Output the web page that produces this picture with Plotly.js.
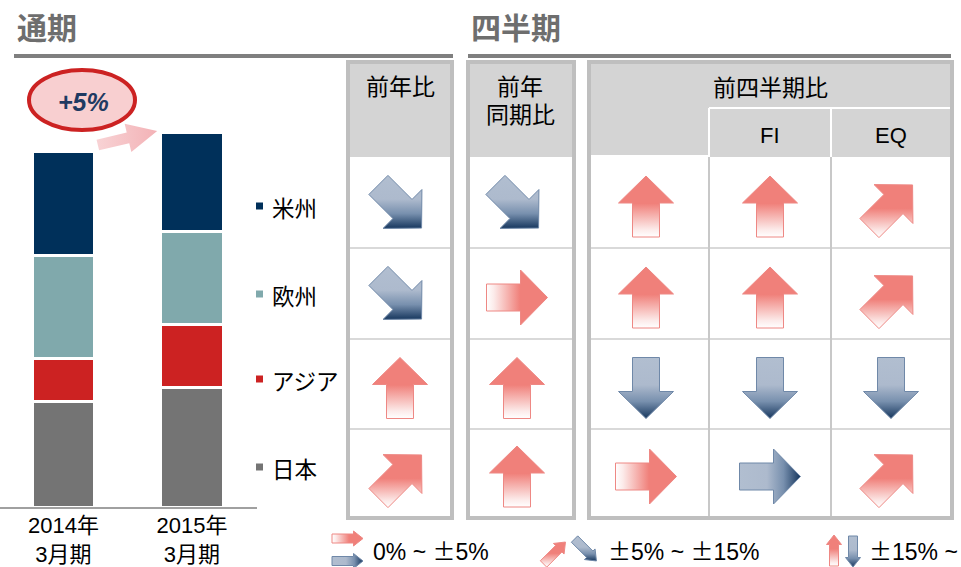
<!DOCTYPE html>
<html><head><meta charset="utf-8">
<script src="https://cdn.plot.ly/plotly-3.0.1.min.js"></script>
<style>html,body{margin:0;padding:0;background:#fff}#chart{width:961px;height:567px}</style>
</head><body><div id="chart"></div>
<script>
// ---------------- DATA ----------------
var periods = ['2014年<br>3月期', '2015年<br>3月期'];
var regions = ['日本', 'アジア', '欧州', '米州'];          // stacking order bottom -> top
var japan    = [106, 120];
var asia     = [43, 63];
var europe   = [103, 93];
var americas = [104, 99];
var growthLabel = '+5%';

var sectionTitles = ['通期', '四半期'];
var compareHeaders = ['前年比', '前年', '同期比', '前四半期比', 'FI', 'EQ'];
var tableRows = ['米州', '欧州', 'アジア', '日本'];
// change bands: 2 = over +15%, 1 = +5~15%, 0.5 = 0~+5%, -0.5 = 0~-5%, -1 = -5~-15%, -2 = over -15%
var yoyAnnual  = [-1, -1, 2, 1];
var yoyQuarter = [-1, 0.5, 2, 2];
var qoqTotal   = [2, 2, -2, 0.5];
var qoqFI      = [2, 2, -2, -0.5];
var qoqEQ      = [1, 1, -2, 1];
var legendTexts = ['0% ~ ±5%', '±5% ~ ±15%', '±15% ~'];
var legendBands = [[0.5, -0.5], [1, -1], [2, -2]];

// ---------------- STYLE / LAYOUT ----------------
var W = 961, H = 567;
var LAT = '"Liberation Sans", Arial, "Noto Sans CJK JP", sans-serif';
var CJK = '"Noto Sans CJK JP", "Liberation Sans", sans-serif';
var segColors = {'日本': '#747474', 'アジア': '#CC2222', '欧州': '#80A9AC', '米州': '#00305A'};
var seriesVals = {'日本': japan, 'アジア': asia, '欧州': europe, '米州': americas};
var legendY = {'米州': 207, '欧州': 295, 'アジア': 380, '日本': 468};

var RED = '#F0807A';
var RED_CS = [[0, '#FFFFFF'], [0.12, '#FCEBEA'], [0.55, RED], [1, RED]];
var BLUE_CS = [[0, '#B1BED0'], [0.45, '#ADBACD'], [0.72, '#7890AE'], [1, '#17375E']];

var traces = [];
regions.forEach(function (r) {
  traces.push({
    type: 'bar', x: periods, y: seriesVals[r], name: r,
    marker: {color: segColors[r], line: {color: '#FFFFFF', width: 3}},
    width: 0.49, xaxis: 'x', yaxis: 'y', hoverinfo: 'skip', showlegend: false
  });
});

function bandAngle(b) {
  if (b >= 2) return 90; if (b >= 1) return 45; if (b > -1) return 0; if (b > -2) return -45; return -90;
}
function arrowPoly(cx, cy, angDeg, L, Hh, HW, SW) {
  var a = angDeg * Math.PI / 180, dx = Math.cos(a), dy = -Math.sin(a), px = -dy, py = dx;
  var pts = [[-L/2, -SW], [L/2 - Hh, -SW], [L/2 - Hh, -HW], [L/2, 0], [L/2 - Hh, HW], [L/2 - Hh, SW], [-L/2, SW], [-L/2, -SW]];
  return {x: pts.map(function (p) { return cx + p[0]*dx + p[1]*px; }),
          y: pts.map(function (p) { return cy + p[0]*dy + p[1]*py; })};
}
function gradTrace(poly, angDeg, cs, lineColor, lw) {
  var a = angDeg * Math.PI / 180;
  var horiz = Math.abs(Math.sin(a)) < 1e-6;
  var vals = horiz ? poly.x : poly.y;
  var lo = Math.min.apply(null, vals), hi = Math.max.apply(null, vals);
  var comp = horiz ? Math.cos(a) : -Math.sin(a);
  return {
    type: 'scatter', mode: 'lines', x: poly.x, y: poly.y, xaxis: 'x2', yaxis: 'y2',
    fill: 'toself',
    fillgradient: {type: horiz ? 'horizontal' : 'vertical', colorscale: cs,
                   start: comp > 0 ? lo : hi, stop: comp > 0 ? hi : lo},
    line: {color: lineColor, width: lw}, hoverinfo: 'skip', showlegend: false
  };
}
function bandArrow(cx, cy, band, dims) {
  var ang = bandAngle(band), pos = band > 0;
  var poly = arrowPoly(cx, cy, ang, dims[0], dims[1], dims[2], dims[3]);
  return gradTrace(poly, ang, pos ? RED_CS : BLUE_CS, pos ? '#EE8884' : '#6F88A8', 1);
}

// table geometry (pixels)
var TOP = 60, HEAD_BOT = 157, BOT = 520, SUB_Y = 108, BW = 4;
var ROW_BOUNDS = [157, 248, 339, 429, 516];
var groups = [
  {x0: 346, x1: 454},
  {x0: 466, x1: 576},
  {x0: 587, x1: 954, splits: [709, 831]}
];
var colCenters = [400, 517, 646, 770, 891];
var BIG = [61, 27, 27.5, 13.5];
var SMALL = [31, 9.5, 7.5, 4.5];

var shapes = [], annotations = [];
function line(x0, y0, x1, y1, color, w) {
  shapes.push({type: 'line', xref: 'x2', yref: 'y2', x0: x0, y0: y0, x1: x1, y1: y1, line: {color: color, width: w}, layer: 'below'});
}
function rect(x0, y0, x1, y1, fill, lc, lw) {
  shapes.push({type: 'rect', xref: 'x2', yref: 'y2', x0: x0, y0: y0, x1: x1, y1: y1, fillcolor: fill, line: {color: lc || 'rgba(0,0,0,0)', width: lw || 0}, layer: 'below'});
}
function text(t, x, y, size, opts) {
  opts = opts || {};
  annotations.push({xref: 'x2', yref: 'y2', x: x, y: y, text: t, showarrow: false,
    xanchor: opts.xanchor || 'center', yanchor: 'middle', align: opts.align || 'center',
    font: {family: opts.family || CJK, size: size, color: opts.color || '#000000', weight: opts.weight || 'normal'}});
}

// section headings and rules
text(sectionTitles[0], 15, 26, 30, {xanchor: 'left', color: '#6E6E6E', weight: 'bold'});
text(sectionTitles[1], 469, 26, 30, {xanchor: 'left', color: '#6E6E6E', weight: 'bold'});
line(14, 56, 453, 56, '#7F7F7F', 4);
line(468, 56, 951, 56, '#7F7F7F', 4);

// table frames
groups.forEach(function (g) {
  rect(g.x0 + BW, TOP + BW, g.x1 - BW, HEAD_BOT, '#D4D4D4');
  ROW_BOUNDS.slice(1, 4).forEach(function (y) { line(g.x0 + BW, y, g.x1 - BW, y, '#D9D9D9', 2); });
  if (g.splits) {
    g.splits.forEach(function (sx) {
      line(sx, HEAD_BOT, sx, BOT - BW, '#C8C8C8', 2);
      line(sx, SUB_Y, sx, HEAD_BOT, '#FFFFFF', 2);
    });
    line(g.splits[0], SUB_Y, g.x1 - BW, SUB_Y, '#FFFFFF', 2);
    line(g.x0 + BW, HEAD_BOT - 1, g.splits[0], HEAD_BOT - 1, '#FFFFFF', 2);
  }
  rect(g.x0 + BW/2, TOP + BW/2, g.x1 - BW/2, BOT - BW/2, 'rgba(0,0,0,0)', '#BFBFBF', BW);
});

// headers
text(compareHeaders[0], 400, 87, 23, {family: LAT});
text(compareHeaders[1], 520, 87, 23, {family: LAT});
text(compareHeaders[2], 520, 115, 23, {family: LAT});
text(compareHeaders[3], 770, 88, 23, {family: LAT});
text(compareHeaders[4], 770, 135, 22, {family: LAT});
text(compareHeaders[5], 891, 135, 22, {family: LAT});

// arrows in cells
var columns = [yoyAnnual, yoyQuarter, qoqTotal, qoqFI, qoqEQ];
columns.forEach(function (col, ci) {
  col.forEach(function (band, ri) {
    var cy = (ROW_BOUNDS[ri] + ROW_BOUNDS[ri + 1]) / 2 + 4;
    traces.push(bandArrow(colCenters[ci], cy, band, BIG));
  });
});

// bar legend (squares + labels)
regions.forEach(function (r) {
  var y = legendY[r];
  rect(256, y - 4.5, 263, y + 2.5, segColors[r]);
  text(r, 270, y, 22.5, {xanchor: 'left'});
});

// growth ellipse + label + pink arrow
shapes.push({type: 'circle', xref: 'x2', yref: 'y2', x0: 29, y0: 70, x1: 135, y1: 130,
  fillcolor: '#F8CFD0', line: {color: '#CC2222', width: 4}, layer: 'below'});
text('<b><i>' + growthLabel + '</i></b>', 83, 102, 25, {family: LAT, color: '#1F3A62'});
(function () {
  var ang = 13.3;
  var poly = arrowPoly(127.5, 138, ang, 61, 30, 14.5, 5.5);
  traces.push(gradTrace(poly, 0, [[0, '#F8D3D5'], [1, '#F3B2B6']], 'rgba(0,0,0,0)', 0));
})();

// bottom legend
var legendPos = [
  {arrows: [[347.5, 538.5], [347.5, 561]], tx: 371},
  {arrows: [[554.5, 553], [585.5, 550]], tx: 606},
  {arrows: [[834, 550.5], [853, 551.5]], tx: 867}
];
function wideSign(s) {
  return s.replace(/±/g, '<span style="font-family:Noto Sans CJK JP">±</span>');
}
legendBands.forEach(function (pair, i) {
  pair.forEach(function (b, j) {
    var p = legendPos[i].arrows[j];
    traces.push(bandArrow(p[0], p[1], b, SMALL));
  });
  text(wideSign(legendTexts[i]), legendPos[i].tx, 550, 23, {xanchor: 'left', family: LAT});
});

var layout = {
  width: W, height: H, margin: {l: 0, r: 0, t: 0, b: 0},
  paper_bgcolor: '#FFFFFF', plot_bgcolor: 'rgba(0,0,0,0)',
  barmode: 'stack', showlegend: false,
  xaxis: {domain: [0, 257 / W], range: [-0.494, 1.506], type: 'category', anchor: 'y',
          showline: true, linecolor: '#A0A0A0', linewidth: 2, ticks: '', showgrid: false,
          zeroline: false, fixedrange: true, ticklabelstandoff: -2,
          tickfont: {family: LAT, size: 22, color: '#000000'}},
  yaxis: {domain: [60 / H, 467 / H], range: [0, 407], visible: false, fixedrange: true, anchor: 'x'},
  xaxis2: {domain: [0, 1], range: [0, W], visible: false, fixedrange: true, anchor: 'y2'},
  yaxis2: {domain: [0, 1], range: [H, 0], visible: false, fixedrange: true, anchor: 'x2'},
  shapes: shapes, annotations: annotations
};
Plotly.newPlot('chart', traces, layout, {staticPlot: true, displayModeBar: false});
</script></body></html>
